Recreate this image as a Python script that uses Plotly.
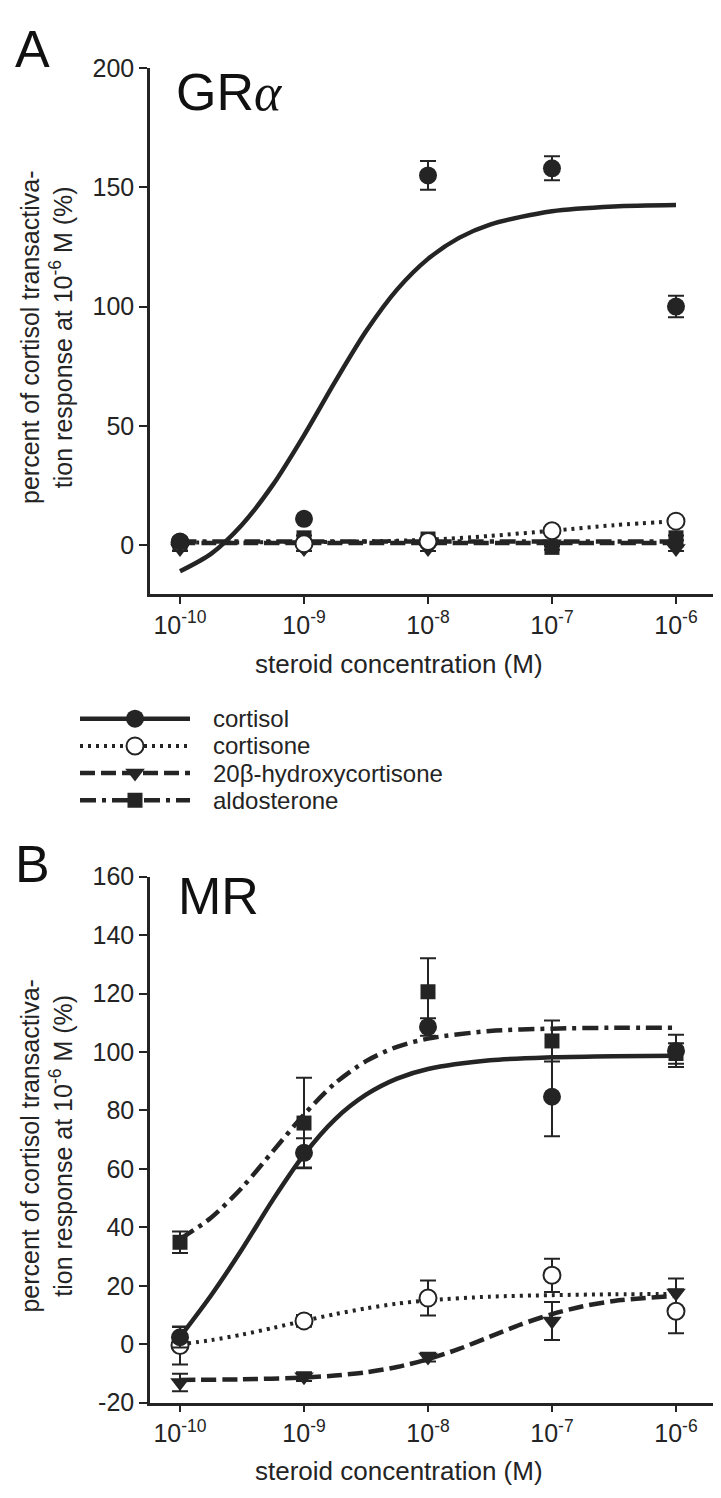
import plotly.graph_objects as go

W, H = 721, 1498
INK = "#242424"
FONT = "Liberation Sans, Arial, sans-serif"

# ---------------- data ----------------
conc_exp = [-10, -9, -8, -7, -6]
tick_text = ["10<sup>-10</sup>", "10<sup>-9</sup>", "10<sup>-8</sup>", "10<sup>-7</sup>", "10<sup>-6</sup>"]
series = ["cortisol", "cortisone", "20β-hydroxycortisone", "aldosterone"]

A_yticks = [0, 50, 100, 150, 200]
A_ytick_text = ["0", "50", "100", "150", "200"]
B_yticks = [-20, 0, 20, 40, 60, 80, 100, 120, 140, 160]
B_ytick_text = ["-20", "0", "20", "40", "60", "80", "100", "120", "140", "160"]

# Panel A (GR alpha) measured points and SEM
A_cortisol = [1.5, 11, 155, 158, 100]
A_cortisol_err = [1.5, 1, 6, 5, 4.5]
A_cortisone = [1.0, 0.5, 1.5, 6.0, 10.0]
A_cortisone_err = [1, 1, 1, 1, 1]
A_hydroxy = [-1.5, -1.5, -1.5, 0.5, -1.5]
A_hydroxy_err = [1, 1, 1, 1, 1]
A_aldo = [0.5, 3.0, 2.5, -1.0, 3.0]
A_aldo_err = [1, 1, 1, 1, 1]

# Panel A fitted curves
A_fit_cortisol_x = [-10, -9.75, -9.5, -9.25, -9, -8.75, -8.5, -8.25, -8, -7.75, -7.5, -7, -6.5, -6]
A_fit_cortisol_y = [-11.0, -3.7, 8.5, 25.3, 46.0, 68.4, 89.6, 107.1, 120.0, 128.8, 134.4, 140.0, 142.0, 142.6]
A_fit_cortisone_x = [-10, -9, -8.5, -8, -7.5, -7, -6.5, -6]
A_fit_cortisone_y = [1.0, 1.2, 1.5, 2.2, 3.8, 6.0, 8.3, 10.0]
A_fit_hydroxy_x = [-10, -8, -6]
A_fit_hydroxy_y = [0.8, 0.8, 0.8]
A_fit_aldo_x = [-10, -8, -6]
A_fit_aldo_y = [1.5, 1.5, 1.5]

# Panel B (MR) measured points and SEM
B_cortisol = [2.4, 65.5, 108.6, 84.7, 100.4]
B_cortisol_err = [3.5, 5, 3, 13.5, 5.5]
B_cortisone = [-0.4, 8.0, 15.8, 23.6, 11.3]
B_cortisone_err = [6.5, 2, 6, 5.7, 7.5]
B_hydroxy = [-13.1, -11.1, -4.4, 8.0, 17.5]
B_hydroxy_err = [3, 1.5, 1.5, 6.5, 5]
B_aldo = [34.9, 75.7, 120.6, 103.8, 99.5]
B_aldo_err = [3.7, 15.5, 11.5, 7, 3.5]

# Panel B fitted curves
B_fit_x = [-10, -9.75, -9.5, -9.25, -9, -8.75, -8.5, -8.25, -8, -7.5, -7, -6.5, -6]
B_fit_cortisol_y = [2.5, 16.7, 32.5, 49.5, 64.9, 77.0, 85.4, 90.9, 94.2, 97.2, 98.2, 98.6, 98.7]
B_fit_aldo_y = [36.0, 43.3, 53.6, 66.1, 78.6, 89.3, 96.9, 101.8, 104.6, 107.2, 108.0, 108.3, 108.3]
B_fit_cortisone_y = [0.0, 1.4, 3.3, 5.6, 8.0, 10.3, 12.3, 13.9, 15.0, 16.3, 16.8, 17.1, 17.2]
B_fit_hydroxy_x = [-10, -9.5, -9, -8.75, -8.5, -8.25, -8, -7.75, -7.5, -7.25, -7, -6.75, -6.5, -6]
B_fit_hydroxy_y = [-12.2, -12.0, -11.4, -10.7, -9.6, -7.8, -5.1, -1.6, 2.6, 6.8, 10.3, 13.0, 14.8, 16.6]

# ---------------- styles ----------------
LINE_STYLES = {
    "cortisol": dict(width=4.5, dash="solid"),
    "cortisone": dict(width=4, dash="3px,5px"),
    "20β-hydroxycortisone": dict(width=4.5, dash="15px,6px"),
    "aldosterone": dict(width=4.5, dash="16px,6px,4px,6px"),
}
MARKERS = {
    "cortisol": dict(symbol="circle", size=18, color=INK, line=dict(width=0)),
    "cortisone": dict(symbol="circle", size=17, color="white", line=dict(width=2, color=INK)),
    "20β-hydroxycortisone": dict(symbol="triangle-down", size=17, color=INK, line=dict(width=0)),
    "aldosterone": dict(symbol="square", size=15, color=INK, line=dict(width=0)),
}

def px_x(p):
    return p / W

def px_y(p):
    return 1 - p / H

def exp_to_conc(xs):
    return [10.0 ** v for v in xs]

fig = go.Figure()

def add_curve(name, xs, ys, xa, ya):
    fig.add_trace(go.Scatter(
        x=exp_to_conc(xs), y=ys, mode="lines", xaxis=xa, yaxis=ya,
        line=dict(color=INK, shape="spline", smoothing=0.8, **LINE_STYLES[name]),
        showlegend=False, hoverinfo="skip"))

def add_points(name, ys, err, xa, ya):
    fig.add_trace(go.Scatter(
        x=exp_to_conc(conc_exp), y=ys, mode="markers", xaxis=xa, yaxis=ya,
        marker=MARKERS[name],
        error_y=dict(type="data", array=err, visible=True, color=INK, thickness=2, width=8),
        showlegend=False, name=name))

# Panel A
add_curve("cortisol", A_fit_cortisol_x, A_fit_cortisol_y, "x", "y")
add_curve("cortisone", A_fit_cortisone_x, A_fit_cortisone_y, "x", "y")
add_curve("20β-hydroxycortisone", A_fit_hydroxy_x, A_fit_hydroxy_y, "x", "y")
add_curve("aldosterone", A_fit_aldo_x, A_fit_aldo_y, "x", "y")
add_points("20β-hydroxycortisone", A_hydroxy, A_hydroxy_err, "x", "y")
add_points("aldosterone", A_aldo, A_aldo_err, "x", "y")
add_points("cortisone", A_cortisone, A_cortisone_err, "x", "y")
add_points("cortisol", A_cortisol, A_cortisol_err, "x", "y")

# Panel B
add_curve("cortisol", B_fit_x, B_fit_cortisol_y, "x2", "y2")
add_curve("aldosterone", B_fit_x, B_fit_aldo_y, "x2", "y2")
add_curve("cortisone", B_fit_x, B_fit_cortisone_y, "x2", "y2")
add_curve("20β-hydroxycortisone", B_fit_hydroxy_x, B_fit_hydroxy_y, "x2", "y2")
add_points("20β-hydroxycortisone", B_hydroxy, B_hydroxy_err, "x2", "y2")
add_points("cortisone", B_cortisone, B_cortisone_err, "x2", "y2")
add_points("aldosterone", B_aldo, B_aldo_err, "x2", "y2")
add_points("cortisol", B_cortisol, B_cortisol_err, "x2", "y2")

# Legend drawn in its own hidden axes (pixel coordinates)
LEG_X0, LEG_X1, LEG_TEXT_X = 72, 182, 203
LEG_Y0, LEG_DY = 710, 27.7
for i, name in enumerate(series):
    yy = LEG_Y0 + i * LEG_DY
    fig.add_trace(go.Scatter(
        x=[LEG_X0, LEG_X1], y=[yy, yy], mode="lines", xaxis="x3", yaxis="y3",
        line=dict(color=INK, **LINE_STYLES[name]), showlegend=False, hoverinfo="skip"))
    fig.add_trace(go.Scatter(
        x=[(LEG_X0 + LEG_X1) / 2], y=[yy], mode="markers", xaxis="x3", yaxis="y3",
        marker=MARKERS[name], showlegend=False, hoverinfo="skip"))
    fig.add_annotation(x=LEG_TEXT_X, y=yy, xref="x3", yref="y3", text=name,
                       showarrow=False, xanchor="left", yanchor="middle",
                       font=dict(family=FONT, size=24, color=INK))

# ---------------- axes ----------------
xdom = [px_x(142), px_x(713)]
xrange = [-10.242, -5.637]
common_x = dict(type="log", range=xrange, tickvals=exp_to_conc(conc_exp), ticktext=tick_text,
                showline=True, linecolor=INK, linewidth=2.5, ticks="outside", ticklen=7,
                tickwidth=2, tickcolor=INK, showgrid=False, zeroline=False,
                tickfont=dict(family=FONT, size=25, color=INK), domain=xdom)
common_y = dict(showline=True, linecolor=INK, linewidth=2.5, ticks="outside", ticklen=8,
                tickwidth=2, tickcolor=INK, showgrid=False, zeroline=False,
                tickfont=dict(family=FONT, size=25, color=INK))

fig.update_layout(
    xaxis=dict(common_x, anchor="y"),
    yaxis=dict(common_y, range=[-20.6, 200], tickvals=A_yticks, ticktext=A_ytick_text,
               domain=[px_y(583), px_y(47)], anchor="x"),
    xaxis2=dict(common_x, anchor="y2"),
    yaxis2=dict(common_y, range=[-20, 160], tickvals=B_yticks, ticktext=B_ytick_text,
                domain=[px_y(1407), px_y(871)], anchor="x2"),
    xaxis3=dict(domain=[0, 1], range=[0, W], visible=False, anchor="y3"),
    yaxis3=dict(domain=[px_y(830), px_y(680)], range=[830, 680], visible=False, anchor="x3"),
)

# ---------------- text ----------------
ytitle = "percent of cortisol transactiva-<br>tion response at 10<sup>-6</sup> M (%)"
for cy in (322, 1146):
    fig.add_annotation(x=px_x(39), y=px_y(cy), xref="paper", yref="paper", text=ytitle,
                       textangle=-90, showarrow=False, xanchor="center", yanchor="middle",
                       font=dict(family=FONT, size=25, color=INK))
for cy in (654, 1477):
    fig.add_annotation(x=px_x(391), y=px_y(cy), xref="paper", yref="paper",
                       text="steroid concentration (M)", showarrow=False,
                       xanchor="center", yanchor="middle",
                       font=dict(family=FONT, size=26, color=INK))
for txt, cx, cy in (("A", 24, 28), ("B", 24, 858)):
    fig.add_annotation(x=px_x(cx), y=px_y(cy), xref="paper", yref="paper", text=txt,
                       showarrow=False, xanchor="center", yanchor="middle",
                       font=dict(family=FONT, size=52, color="#111"))
fig.add_annotation(x=px_x(166), y=px_y(71), xref="paper", yref="paper",
                   text="GR<span style='font-family:Liberation Serif'><i>α</i></span>",
                   showarrow=False, xanchor="left", yanchor="middle",
                   font=dict(family=FONT, size=52, color="#111"))
fig.add_annotation(x=px_x(168), y=px_y(891), xref="paper", yref="paper", text="MR",
                   showarrow=False, xanchor="left", yanchor="middle",
                   font=dict(family=FONT, size=52, color="#111"))

fig.update_layout(width=W, height=H, margin=dict(l=0, r=0, t=0, b=0),
                  paper_bgcolor="white", plot_bgcolor="white", showlegend=False)

fig.write_html("out.html")
